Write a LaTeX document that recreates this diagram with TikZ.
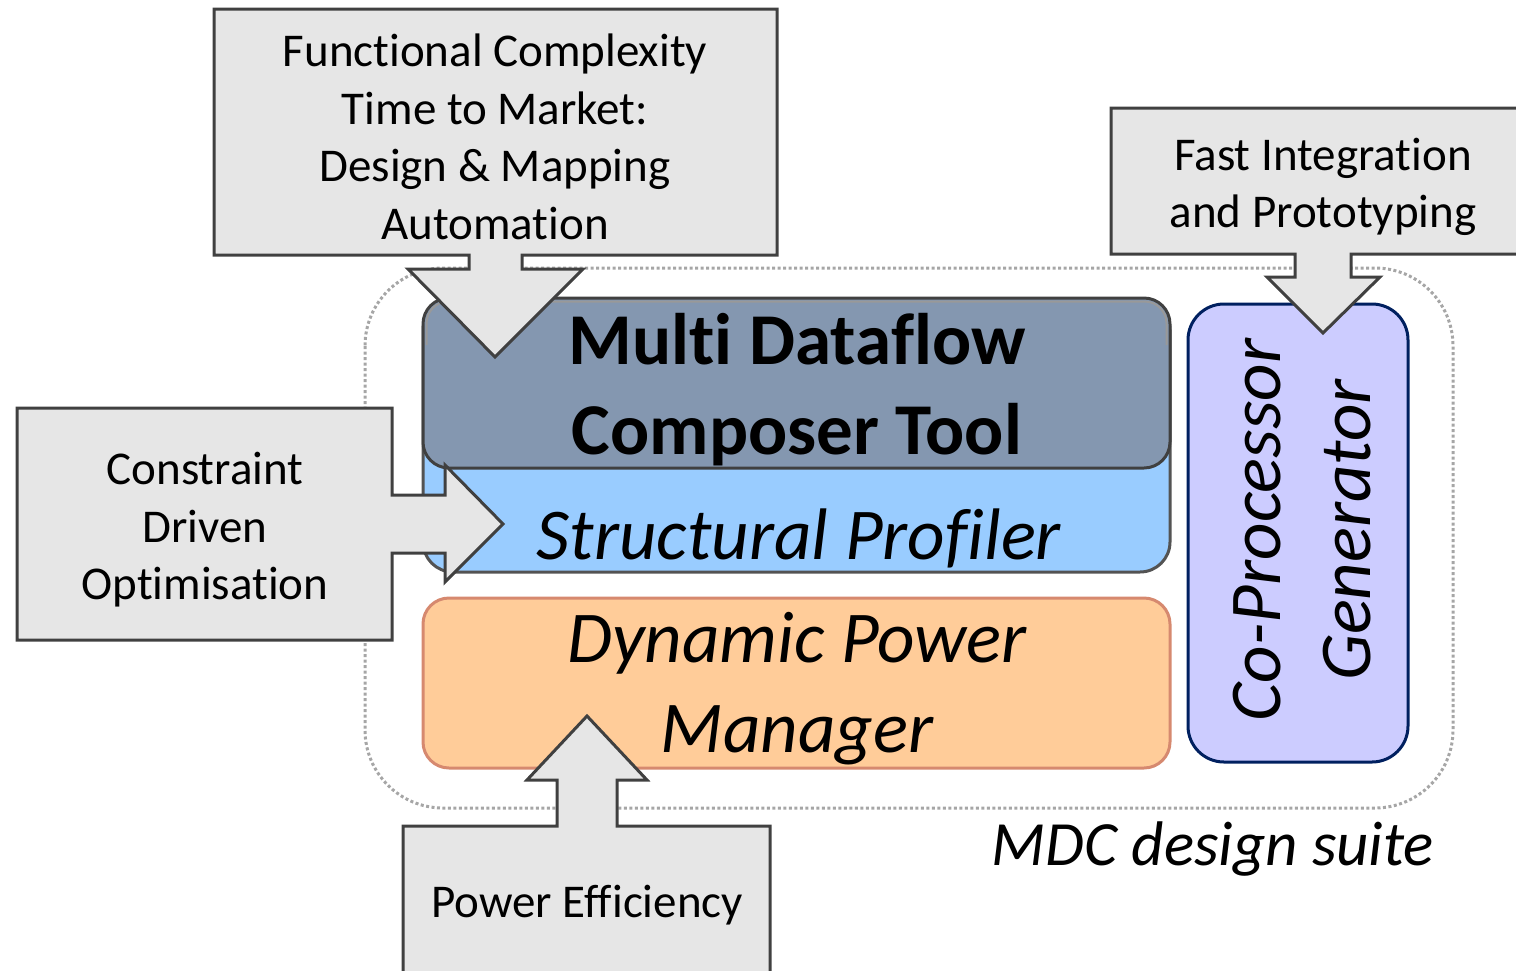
\documentclass[tikz,border=0pt]{standalone}
\usepackage{fontspec}
\setmainfont[Ligatures=NoCommon]{Carlito}
\definecolor{calloutfill}{HTML}{E6E6E6}
\definecolor{darkline}{HTML}{404040}
\definecolor{suiteline}{HTML}{A6A6A6}
\definecolor{mdcfill}{HTML}{8497B0}
\definecolor{proffill}{HTML}{99CCFF}
\definecolor{powfill}{HTML}{FFCC99}
\definecolor{powline}{HTML}{D6896F}
\definecolor{copfill}{HTML}{CCCCFF}
\definecolor{copline}{HTML}{002060}
\tikzset{
  callout/.style={fill=calloutfill, draw=darkline, line width=3pt, line join=miter},
  calltext/.style={align=center, font=\fontsize{47}{57.5}\selectfont, inner sep=0pt},
  bigtext/.style={align=center, inner sep=0pt},
  block/.style={line width=3pt, rounded corners=26pt},
}
\begin{document}
\begin{tikzpicture}[x=1pt, y=-1pt]
\useasboundingbox (0,0) rectangle (1516,970);

% outline of the whole suite
\draw[suiteline, line width=3pt, dash pattern=on 3pt off 2.5pt, rounded corners=78pt]
  (365,268) rectangle (1453,808);

% structural profiler, partly behind the composer block
\draw[block, fill=proffill, draw=darkline!90, rounded corners=30pt] (423,300) rectangle (1170,572);

% composer block with its top highlight
\draw[block, fill=mdcfill, draw=darkline] (423,298) rectangle (1170,468);
\draw[line width=2pt, draw=black!40, rounded corners=22pt]
  (426.5,345) -- (426.5,301.5) -- (1166.5,301.5) -- (1166.5,345);

% dynamic power manager
\draw[block, fill=powfill, draw=powline] (423,598) rectangle (1170,768);

% co-processor generator
\draw[block, fill=copfill, draw=copline, rounded corners=36pt] (1188,304) rectangle (1408,762);

% block labels
\node[bigtext, font=\fontsize{73}{90}\selectfont\bfseries] (mdc) at (797,390) {Multi Dataflow\\Composer Tool};
\node[bigtext, font=\fontsize{73}{90}\selectfont\itshape] (prof) at (799,538) {Structural Profiler};
\node[bigtext, font=\fontsize{73}{90}\selectfont\itshape] (dpm) at (797,689) {Dynamic Power\\Manager};
\node[bigtext, font=\fontsize{73}{90}\selectfont\itshape, rotate=90] (cpg) at (1302,530) {Co-Processor\\Generator};
\node[bigtext, font=\fontsize{63}{75}\selectfont\itshape] (suite) at (1213,849) {MDC design suite};

% callout from the top
\draw[callout] (214,9) -- (777,9) -- (777,255) -- (522,255) -- (522,269) -- (583,269)
  -- (495,357) -- (408,269) -- (469,269) -- (469,255) -- (214,255) -- cycle;
\node[calltext] (fc) at (495,137) {Functional Complexity\\Time to Market:\\Design \& Mapping\\Automation};

% callout from the left
\draw[callout] (17,408) -- (392,408) -- (392,495) -- (445,495) -- (445,465) -- (503,524)
  -- (445,582) -- (445,553) -- (392,553) -- (392,640) -- (17,640) -- cycle;
\node[calltext] (cdo) at (205,530) {Constraint\\Driven\\Optimisation};

% callout from below
\draw[callout] (403,980) -- (403,826) -- (557,826) -- (557,780) -- (527,780) -- (587,716)
  -- (647,780) -- (617,780) -- (617,826) -- (770,826) -- (770,980);
\node[calltext] (pe) at (587,905) {Power Efficiency};

% callout from the top right
\draw[callout] (1111,108) -- (1530,108) -- (1530,254) -- (1351,254) -- (1351,277) -- (1380,277)
  -- (1323,333) -- (1267,277) -- (1295,277) -- (1295,254) -- (1111,254) -- cycle;
\node[calltext] (fip) at (1323,187) {Fast Integration\\and Prototyping};
\end{tikzpicture}
\end{document}
